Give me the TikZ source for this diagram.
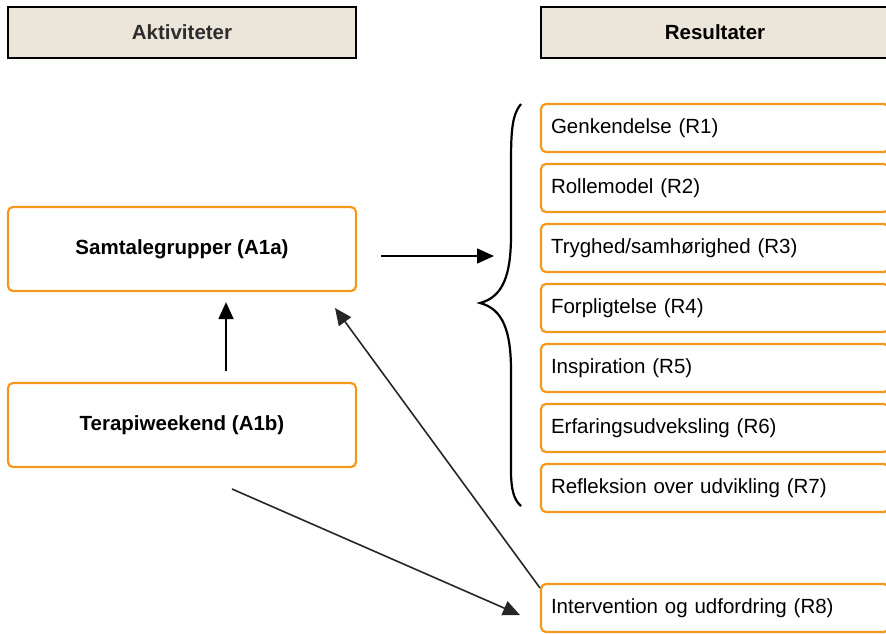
\documentclass[tikz,border=0pt]{standalone}
\usepackage{fontspec}
\setmainfont{Liberation Sans}
\usetikzlibrary{positioning, arrows.meta}

\definecolor{boxorange}{RGB}{242,153,29}
\definecolor{headfill}{RGB}{236,229,218}
\definecolor{headtext}{RGB}{45,45,45}

\begin{document}
\begin{tikzpicture}[x=1pt, y=-1pt, >={Triangle[length=17pt, width=15pt]},
    headbox/.style={draw=black, line width=2.8pt, fill=headfill, minimum width=348pt, minimum height=51pt, inner sep=0pt, font=\fontsize{20.5}{24}\selectfont\bfseries},
    actbox/.style={draw=boxorange, line width=2.2pt, rounded corners=5pt, minimum width=348pt, minimum height=84pt, inner sep=0pt, font=\fontsize{20.5}{24}\selectfont\bfseries},
    resbox/.style={draw=boxorange, line width=2.2pt, rounded corners=5pt, text width=328pt, align=left, inner xsep=10pt, inner ysep=0pt, outer sep=0pt, minimum height=48pt, font=\fontsize{20.5}{24}\selectfont}]
            \useasboundingbox (0,0) rectangle (886,633);
            \clip (0,0) rectangle (886,633);

            \node [headbox, text=headtext] (aktiviteter) at (182,32.5) {Aktiviteter};
            \node [headbox] (resultater) at (715,32.5) {Resultater};

            \node [actbox] (samtale) at (182,249) {Samtalegrupper (A1a)};
            \node [actbox] (terapi) at (182,425) {Terapiweekend (A1b)};

            \node [resbox] (genkendelse) at (715,128) {Genkendelse (R1)};
            \node [resbox, below=12pt of genkendelse] (rollemodel) {Rollemodel (R2)};
            \node [resbox, below=12pt of rollemodel] (tryghed) {Tryghed/samhørighed (R3)};
            \node [resbox, below=12pt of tryghed] (forpligtelse) {Forpligtelse (R4)};
            \node [resbox, below=12pt of forpligtelse] (inspiration) {Inspiration (R5)};
            \node [resbox, below=12pt of inspiration] (erfaring) {Erfaringsudveksling (R6)};
            \node [resbox, below=12pt of erfaring] (refleksion) {Refleksion over udvikling (R7)};
            \node [resbox] (intervention) at (715,608) {Intervention og udfordring (R8)};

            % brace round R1 to R7
            \coordinate (bracetip) at (480,303);
            \draw [line width=2.2pt] (521,104) .. controls (511,116) and (511,135) .. (511,170)
            -- (511,235) .. controls (511,275) and (503,297) .. (bracetip)
            .. controls (503,309) and (511,331) .. (511,371)
            -- (511,470) .. controls (511,490) and (514,500) .. (521,506);

            \coordinate (samtale_out) at (381,256);
            \coordinate (brace_in) at (494,256);
            \coordinate (samtale_in) at (335,308);
            \coordinate (terapi_out) at (232,489);
            \coordinate (intervention_in) at (520,615);

            \path [->, line width=1.6pt] (samtale_out) edge (brace_in)
            ([shift={(44pt,11pt)}] terapi.north) edge ([shift={(44pt,-10pt)}] samtale.south);
            \path [->, line width=1.6pt, black!85] ([shift={(-1pt,-4pt)}] intervention.north west) edge (samtale_in)
            (terapi_out) edge (intervention_in);
          \end{tikzpicture}
\end{document}
